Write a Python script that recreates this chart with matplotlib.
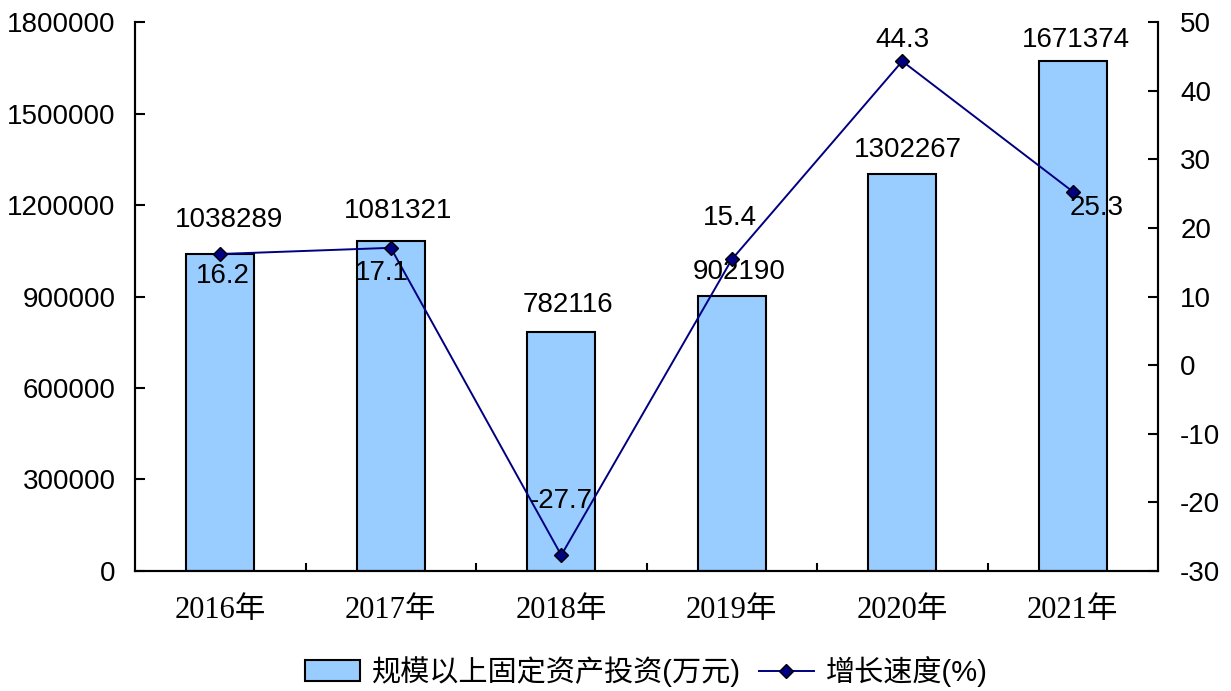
import matplotlib
matplotlib.use("Agg")
import matplotlib.pyplot as plt
from matplotlib.ticker import FuncFormatter

years = ["2016年", "2017年", "2018年", "2019年", "2020年", "2021年"]
invest = [1038289, 1081321, 782116, 902190, 1302267, 1671374]
growth = [16.2, 17.1, -27.7, 15.4, 44.3, 25.3]
# label offsets in points (label placement only)
invest_offsets = [(6, 25), (5, 22), (5, 20), (5, 17), (4, 17), (2, 15)]
growth_offsets = [(2, -16), (-6.5, -18), (0, 39), (-1.5, 30), (0, 15), (17, -12)]

plt.rcParams["font.family"] = ["Liberation Sans", "Noto Sans CJK SC"]
plt.rcParams["axes.unicode_minus"] = False

fig = plt.figure(figsize=(12.31, 6.91), dpi=100)
ax = fig.add_axes([0.1097, 0.1737, 0.8310, 0.7943])
ax2 = ax.twinx()

x = list(range(len(years)))
ax.bar(x, invest, width=0.4, color="#99CCFF", edgecolor="black", lw=1.5,
       label="规模以上固定资产投资(万元)", zorder=2)
ax2.plot(x, growth, color="#000080", lw=1.4, marker="D", ms=7, mfc="#000080",
         mec="black", label="增长速度(%)", zorder=3)

ax.set_xlim(-0.5, 5.5)
ax.set_ylim(0, 1800000)
ax.set_yticks(range(0, 1800001, 300000))
ax.yaxis.set_major_formatter(FuncFormatter(lambda v, p: f"{int(v)}"))
ax2.set_ylim(-30, 50)
ax2.set_yticks(range(-30, 51, 10))

ax.set_xticks([i + 0.5 for i in x[:-1]], minor=True)
ax.set_xticks(x)
ax.set_xticklabels(years, family=["Liberation Serif", "Noto Sans CJK SC"], fontsize=22)
ax.tick_params(axis="x", which="major", length=0, pad=18)
ax.tick_params(axis="x", which="minor", direction="in", length=6, width=1.5)
ax.tick_params(axis="y", direction="in", length=7, width=1.5, labelsize=20, pad=14)
ax2.tick_params(axis="y", direction="in", length=7, width=1.5, labelsize=20, pad=16)
for a in (ax, ax2):
    a.spines["top"].set_visible(False)
    for s in ("left", "right", "bottom"):
        a.spines[s].set_linewidth(1.5)

for xi, v, off in zip(x, invest, invest_offsets):
    ax.annotate(f"{v}", (xi, v), xytext=off, textcoords="offset points",
                ha="center", va="center", fontsize=20)
for xi, v, off in zip(x, growth, growth_offsets):
    ax2.annotate(f"{v}", (xi, v), xytext=off, textcoords="offset points",
                 ha="center", va="center", fontsize=20)

h1, l1 = ax.get_legend_handles_labels()
h2, l2 = ax2.get_legend_handles_labels()
fig.legend(h1 + h2, l1 + l2, loc="lower center", bbox_to_anchor=(0.525, -0.032),
           ncol=2, frameon=False, fontsize=21, handlelength=1.9, columnspacing=0.6,
           handletextpad=0.4)

fig.savefig("out.png", dpi=100)
